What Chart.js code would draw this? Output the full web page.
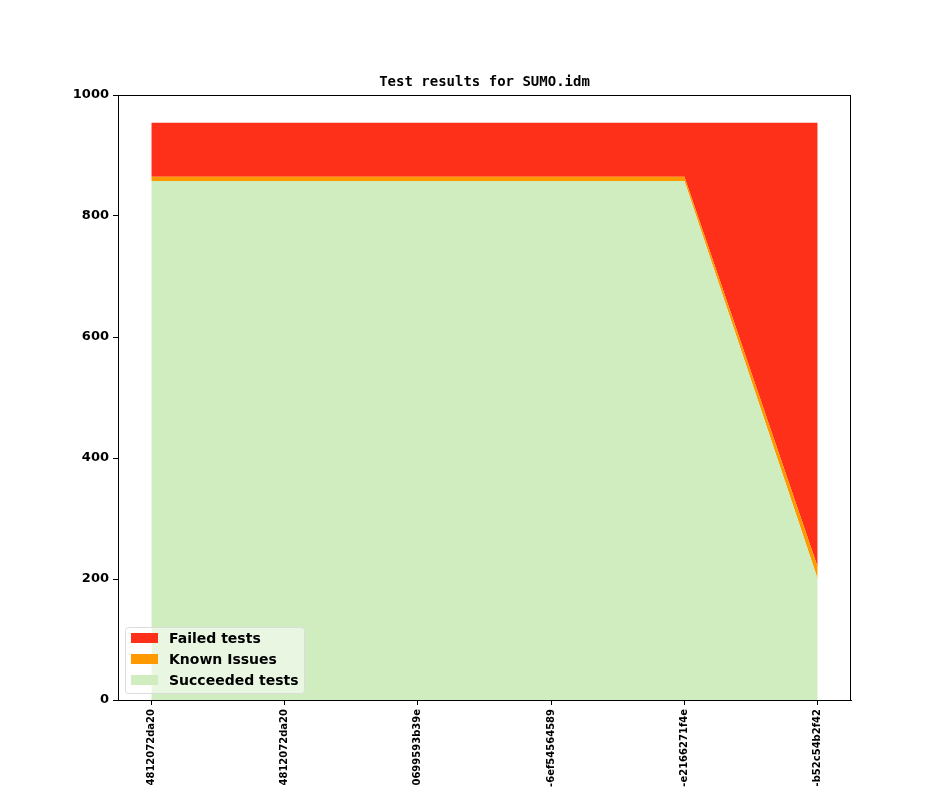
<!DOCTYPE html>
<html>
<head>
<meta charset="utf-8">
<script src="https://cdn.jsdelivr.net/npm/chart.js@4.4.1/dist/chart.umd.min.js"></script>
<style>
  html, body { margin: 0; padding: 0; background: #fff; }
  canvas { display: block; }
</style>
</head>
<body>
<canvas id="chart" width="944" height="787"></canvas>
<script>
const commits = ["4812072da20", "4812072da20", "0699593b39e", "-6ef54564589", "-e2166271f4e", "-b52c54b2f42"];
const succeeded = [858, 858, 858, 858, 858, 200];
const knownIssues = [7, 7, 7, 7, 7, 20];
const failed = [89, 89, 89, 89, 89, 734];
const yTicks = [0, 200, 400, 600, 800, 1000];

const RED = "#ff3019";
const ORANGE = "#ff9900";
const GREEN = "#cfedbf";

const pts = arr => arr.map((v, i) => ({x: i, y: v}));

// frame, title and the in-plot legend
const extras = {
  id: "extras",
  afterDraw(chart) {
    const {ctx, chartArea: a} = chart;
    ctx.save();
    ctx.strokeStyle = "#000";
    ctx.lineWidth = 1;
    ctx.strokeRect(a.left + 0.5, a.top + 0.5, a.right - a.left - 1, a.bottom - a.top);

    ctx.fillStyle = "#000";
    ctx.font = "bold 14px 'DejaVu Sans Mono'";
    ctx.textAlign = "center";
    ctx.textBaseline = "alphabetic";
    ctx.fillText("Test results for SUMO.idm", (a.left + a.right) / 2, 86);

    // legend box
    const bx = 125, by = 627, bw = 179, bh = 66;
    ctx.beginPath();
    ctx.roundRect(bx + 0.5, by + 0.5, bw, bh, 3);
    ctx.fillStyle = "rgba(255,255,255,0.55)";
    ctx.fill();
    ctx.strokeStyle = "#dcdcdc";
    ctx.stroke();
    const items = [["Failed tests", RED], ["Known Issues", ORANGE], ["Succeeded tests", GREEN]];
    ctx.font = "bold 14px 'DejaVu Sans'";
    ctx.textAlign = "left";
    ctx.textBaseline = "middle";
    items.forEach(([label, color], i) => {
      const cy = 638 + i * 21;
      ctx.fillStyle = color;
      ctx.fillRect(131, cy - 5, 27, 10);
      ctx.fillStyle = "#000";
      ctx.fillText(label, 169, cy + 1);
    });
    ctx.restore();
  }
};

new Chart(document.getElementById("chart"), {
  type: "line",
  data: {
    datasets: [
      {label: "Succeeded tests", data: pts(succeeded), backgroundColor: GREEN, fill: "origin"},
      {label: "Known Issues", data: pts(knownIssues), backgroundColor: ORANGE, fill: "-1"},
      {label: "Failed tests", data: pts(failed), backgroundColor: RED, fill: "-1"}
    ]
  },
  options: {
    responsive: false,
    animation: false,
    layout: {padding: {left: 0, right: 93, top: 95, bottom: 0}},
    elements: {
      line: {borderWidth: 0, tension: 0},
      point: {radius: 0, hoverRadius: 0}
    },
    plugins: {
      legend: {display: false},
      title: {display: false},
      tooltip: {enabled: false}
    },
    scales: {
      x: {
        type: "linear",
        min: -0.25,
        max: 5.25,
        afterBuildTicks: s => { s.ticks = commits.map((_, i) => ({value: i})); },
        afterFit: s => { s.height = 87; },
        grid: {display: true, drawOnChartArea: false, tickLength: 5, color: "#000"},
        border: {display: true, color: "#000"},
        ticks: {
          minRotation: 90,
          maxRotation: 90,
          autoSkip: false,
          padding: 4,
          color: "#000",
          font: {family: "'DejaVu Sans'", size: 10, weight: "bold"},
          callback: v => commits[v]
        }
      },
      y: {
        stacked: true,
        min: 0,
        max: 1000,
        afterBuildTicks: s => { s.ticks = yTicks.map(v => ({value: v})); },
        afterFit: s => { s.width = 118; },
        grid: {display: true, drawOnChartArea: false, tickLength: 5, color: "#000"},
        border: {display: true, color: "#000"},
        ticks: {
          padding: 4,
          color: "#000",
          font: {family: "'DejaVu Sans'", size: 13, weight: "bold"},
          callback: v => String(v)
        }
      }
    }
  },
  plugins: [extras]
});
</script>
</body>
</html>
